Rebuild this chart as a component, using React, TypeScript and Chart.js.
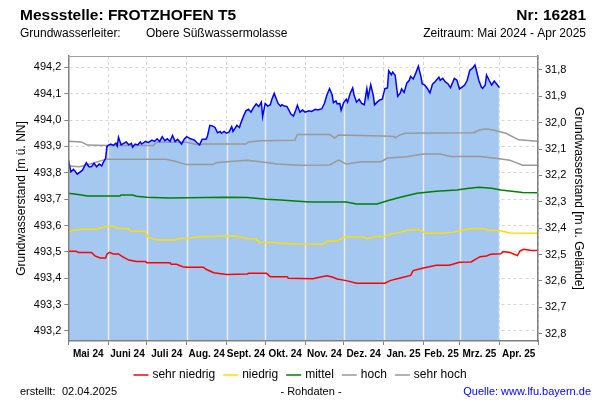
import React, { useEffect, useRef } from "react";
import { Chart, registerables } from "chart.js";

Chart.register(...registerables);

// ---------- DATA ----------
const monthLabels = ["Mai 24", "Juni 24", "Juli 24", "Aug. 24", "Sept. 24", "Okt. 24", "Nov. 24", "Dez. 24", "Jan. 25", "Feb. 25", "Mrz. 25", "Apr. 25"];
const monthLengths = [31, 30, 31, 31, 30, 31, 30, 31, 31, 28, 31, 30];
const groundLevel = 525.99; // m ü. NN
const yMinNN = 493.162;
const yMaxNN = 494.243;

// [day since 1 May 2024, m ü. NN]
const measured: [number, number][] = [
  [0, 493.851], [2, 493.804], [4, 493.813], [5, 493.808], [7, 493.795], [11, 493.81], [14, 493.838], [16, 493.823],
  [18, 493.823], [20, 493.836], [22, 493.823], [24, 493.833], [26, 493.826], [27, 493.838], [29, 493.855], [30, 493.899],
  [31, 493.904], [33, 493.909], [35, 493.904], [37, 493.912], [38, 493.902], [39, 493.935], [41, 493.906], [42, 493.909],
  [45, 493.917], [47, 493.906], [49, 493.912], [50, 493.897], [52, 493.909], [54, 493.906], [56, 493.917], [57, 493.909],
  [60, 493.919], [62, 493.914], [65, 493.924], [67, 493.919], [69, 493.929], [71, 493.919], [73, 493.937], [75, 493.922],
  [77, 493.929], [79, 493.919], [81, 493.942], [83, 493.919], [85, 493.927], [88, 493.909], [90, 493.927], [92, 493.937],
  [95, 493.929], [98, 493.924], [100, 493.914], [102, 493.906], [104, 493.927], [107, 493.927], [108, 493.937], [110, 493.98],
  [112, 493.978], [114, 493.972], [116, 493.952], [118, 493.957], [119, 493.95], [121, 493.957], [123, 493.95], [125, 493.955],
  [127, 493.975], [128, 493.957], [131, 493.98], [133, 493.972], [134, 493.988], [136, 494.013], [138, 494.035], [140, 494.041],
  [142, 494.03], [144, 494.048], [146, 494.061], [148, 494.051], [150, 494.068], [151, 494.013], [153, 494.063], [155, 494.053],
  [157, 494.058], [158, 494.076], [160, 494.101], [163, 494.063], [165, 494.053], [166, 494.058], [168, 494.053], [170, 494.051],
  [173, 494.023], [175, 494.015], [177, 494.041], [178, 494.056], [180, 494.03], [182, 494.038], [184, 494.03], [187, 494.035],
  [189, 494.033], [192, 494.041], [194, 494.038], [197, 494.043], [199, 494.063], [201, 494.096], [203, 494.119], [205, 494.096],
  [206, 494.066], [208, 494.073], [209, 494.061], [211, 494.063], [212, 494.038], [214, 494.066], [216, 494.079], [217, 494.068],
  [219, 494.101], [221, 494.122], [222, 494.096], [224, 494.068], [226, 494.079], [228, 494.063], [230, 494.058], [232, 494.119],
  [233, 494.086], [235, 494.134], [237, 494.094], [238, 494.058], [240, 494.068], [242, 494.076], [244, 494.079], [246, 494.119],
  [248, 494.122], [249, 494.187], [251, 494.172], [252, 494.182], [254, 494.17], [256, 494.09], [258, 494.103], [259, 494.118],
  [261, 494.105], [263, 494.14], [265, 494.151], [266, 494.166], [268, 494.156], [270, 494.178], [272, 494.204], [274, 494.166],
  [275, 494.138], [277, 494.133], [279, 494.12], [281, 494.103], [283, 494.136], [285, 494.145], [288, 494.163], [289, 494.151],
  [291, 494.158], [293, 494.145], [295, 494.138], [297, 494.123], [300, 494.158], [302, 494.151], [304, 494.118], [306, 494.125],
  [308, 494.133], [310, 494.151], [312, 494.189], [314, 494.196], [316, 494.209], [317, 494.191], [319, 494.151], [321, 494.125],
  [322, 494.12], [324, 494.133], [325, 494.171], [327, 494.151], [329, 494.133], [331, 494.148], [333, 494.136], [335, 494.123],
];

const sehrNiedrig: [number, number][] = [
  [0, 493.502], [6, 493.502], [8, 493.498], [18, 493.498], [21, 493.484], [25, 493.477], [29, 493.477], [30, 493.491],
  [32, 493.498], [35, 493.492], [39, 493.492], [42, 493.482], [47, 493.469], [53, 493.464], [60, 493.464], [61, 493.459],
  [79, 493.459], [80, 493.453], [84, 493.453], [89, 493.444], [92, 493.442], [105, 493.442], [107, 493.434], [113, 493.421],
  [123, 493.414], [139, 493.416], [140, 493.419], [154, 493.419], [157, 493.406], [170, 493.406], [171, 493.4], [190, 493.398],
  [196, 493.405], [201, 493.409], [205, 493.405], [209, 493.397], [216, 493.391], [224, 493.381], [246, 493.381], [250, 493.391],
  [258, 493.401], [266, 493.411], [268, 493.429], [276, 493.439], [286, 493.449], [296, 493.449], [304, 493.461], [313, 493.462],
  [320, 493.482], [325, 493.484], [328, 493.491], [336, 493.493], [338, 493.501], [343, 493.498], [346, 493.492], [349, 493.486],
  [351, 493.504], [354, 493.51], [359, 493.506], [365, 493.505],
];

const niedrig: [number, number][] = [
  [0, 493.575], [4, 493.583], [12, 493.586], [22, 493.586], [29, 493.596], [35, 493.596], [38, 493.591], [47, 493.588],
  [48, 493.58], [60, 493.577], [62, 493.555], [69, 493.545], [83, 493.545], [86, 493.551], [93, 493.551], [96, 493.555],
  [106, 493.558], [131, 493.56], [139, 493.55], [146, 493.55], [148, 493.536], [159, 493.536], [165, 493.533], [178, 493.53],
  [198, 493.529], [201, 493.54], [209, 493.541], [214, 493.556], [229, 493.556], [232, 493.55], [238, 493.558], [245, 493.558],
  [250, 493.567], [258, 493.575], [265, 493.583], [272, 493.586], [278, 493.571], [289, 493.571], [299, 493.574], [304, 493.58],
  [312, 493.588], [324, 493.588], [326, 493.583], [336, 493.58], [343, 493.572], [365, 493.571],
];

const mittel: [number, number][] = [
  [0, 493.722], [9, 493.717], [15, 493.712], [40, 493.712], [41, 493.716], [50, 493.716], [53, 493.711], [61, 493.707],
  [78, 493.704], [122, 493.707], [139, 493.706], [154, 493.7], [165, 493.697], [176, 493.693], [188, 493.689], [216, 493.689],
  [224, 493.682], [240, 493.682], [248, 493.694], [258, 493.707], [271, 493.722], [286, 493.73], [302, 493.735], [310, 493.74],
  [319, 493.745], [329, 493.741], [336, 493.735], [343, 493.731], [353, 493.725], [365, 493.724],
];

const hoch: [number, number][] = [
  [0, 493.826], [9, 493.823], [19, 493.836], [27, 493.848], [30, 493.851], [76, 493.851], [82, 493.845], [92, 493.831],
  [112, 493.831], [115, 493.838], [123, 493.842], [139, 493.848], [151, 493.841], [162, 493.833], [180, 493.829], [203, 493.83],
  [210, 493.848], [216, 493.833], [228, 493.842], [243, 493.842], [248, 493.856], [263, 493.861], [276, 493.871], [289, 493.871],
  [297, 493.862], [320, 493.862], [335, 493.853], [343, 493.848], [353, 493.829], [365, 493.829],
];

const sehrHoch: [number, number][] = [
  [0, 493.92], [10, 493.917], [15, 493.905], [30, 493.904], [66, 493.904], [69, 493.916], [92, 493.916], [102, 493.905],
  [105, 493.909], [138, 493.909], [140, 493.917], [150, 493.922], [176, 493.923], [178, 493.945], [203, 493.945], [207, 493.932],
  [210, 493.943], [245, 493.94], [253, 493.938], [254, 493.932], [257, 493.942], [262, 493.95], [315, 493.952], [320, 493.963],
  [325, 493.966], [330, 493.962], [340, 493.95], [350, 493.925], [365, 493.92],
];

const legendLabels = ["sehr niedrig", "niedrig", "mittel", "hoch", "sehr hoch"];
const legendColors = ["#ff0000", "#ffdd00", "#008000", "#999999", "#999999"];
const percentileSeries = [sehrNiedrig, niedrig, mittel, hoch, sehrHoch];

// ---------- helpers ----------
const FONT = '"Liberation Sans", Arial, sans-serif';
const boundaries: number[] = [0];
monthLengths.forEach((len, i) => boundaries.push(boundaries[i] + len));
const midpoints = monthLengths.map((len, i) => boundaries[i] + len / 2);
const toXY = (s: [number, number][]) => s.map(([x, y]) => ({ x, y }));
const fmt = (v: number) => Number(v).toFixed(1).replace(".", ",");
const isBoundary = (v: number) => boundaries.some((b) => Math.abs(b - v) < 1e-6);

const overlayPlugin = {
  id: "overlay",
  afterDatasetDraw(chart: any, args: any) {
    if (args.index !== 0) return;
    const pts = args.meta.data;
    if (!pts || !pts.length) return;
    const { ctx, chartArea } = chart;
    const xs = chart.scales.x;
    ctx.save();
    ctx.beginPath();
    ctx.moveTo(pts[0].x, chartArea.bottom);
    pts.forEach((p: any) => ctx.lineTo(p.x, p.y));
    ctx.lineTo(pts[pts.length - 1].x, chartArea.bottom);
    ctx.closePath();
    ctx.clip();
    ctx.strokeStyle = "#ececec";
    ctx.lineWidth = 1.5;
    boundaries.forEach((b) => {
      const x = Math.round(xs.getPixelForValue(b)) + 0.5;
      ctx.beginPath();
      ctx.moveTo(x, chartArea.top);
      ctx.lineTo(x, chartArea.bottom);
      ctx.stroke();
    });
    ctx.restore();
  },
  afterDraw(chart: any) {
    const { ctx, chartArea } = chart;
    ctx.save();
    // top frame line
    ctx.strokeStyle = "#a0a0a0";
    ctx.lineWidth = 1;
    ctx.beginPath();
    ctx.moveTo(chartArea.left, Math.round(chartArea.top) + 0.5);
    ctx.lineTo(chartArea.right, Math.round(chartArea.top) + 0.5);
    ctx.stroke();

    ctx.fillStyle = "#000";
    ctx.textBaseline = "middle";
    // header
    ctx.font = `bold 15.5px ${FONT}`;
    ctx.textAlign = "left";
    ctx.fillText("Messstelle: FROTZHOFEN T5", 20, 16);
    ctx.textAlign = "right";
    ctx.fillText("Nr: 16281", 586, 16);
    ctx.font = `12px ${FONT}`;
    ctx.textAlign = "left";
    ctx.fillText("Grundwasserleiter:", 20, 34);
    ctx.fillText("Obere Süßwassermolasse", 146, 34);
    ctx.textAlign = "right";
    ctx.fillText("Zeitraum: Mai 2024 - Apr 2025", 586, 34);

    // legend
    ctx.font = `12px ${FONT}`;
    const sample = 15, gapText = 4, gapItem = 8;
    const widths = legendLabels.map((l) => ctx.measureText(l).width);
    const total = widths.reduce((a, w) => a + sample + gapText + w, 0) + gapItem * (legendLabels.length - 1);
    let x = 300 - total / 2;
    const ly = 375;
    ctx.textAlign = "left";
    legendLabels.forEach((l, i) => {
      ctx.strokeStyle = legendColors[i];
      ctx.lineWidth = 1.5;
      ctx.beginPath();
      ctx.moveTo(x, ly);
      ctx.lineTo(x + sample, ly);
      ctx.stroke();
      ctx.fillStyle = "#000";
      ctx.fillText(l, x + sample + gapText, ly);
      x += sample + gapText + widths[i] + gapItem;
    });

    // footer
    ctx.font = `11px ${FONT}`;
    ctx.fillStyle = "#000";
    ctx.textAlign = "left";
    ctx.fillText("erstellt:", 20, 392);
    ctx.fillText("02.04.2025", 62, 392);
    ctx.textAlign = "center";
    ctx.fillText("- Rohdaten -", 311, 392);
    ctx.textAlign = "right";
    ctx.fillStyle = "#0000ff";
    ctx.fillText("Quelle: www.lfu.bayern.de", 591, 392);
    ctx.restore();
  },
};

export default function App() {
  const ref = useRef<HTMLCanvasElement | null>(null);
  useEffect(() => {
    document.body.style.margin = "0";
    const canvas = ref.current;
    if (!canvas) return;
    const lineDs = (data: [number, number][], color: string, order: number, label: string) => ({
      label,
      data: toXY(data),
      borderColor: color,
      borderWidth: 1.5,
      pointRadius: 0,
      fill: false,
      tension: 0,
      order,
    });
    const chart = new Chart(canvas, {
      type: "line",
      data: {
        datasets: [
          {
            label: "Fläche",
            data: toXY(measured),
            borderColor: "rgba(0,0,0,0)",
            borderWidth: 0,
            backgroundColor: "#a5c8f0",
            fill: "start",
            pointRadius: 0,
            tension: 0,
            order: 10,
          },
          lineDs(measured, "#0000ff", 0, "Messwert"),
          ...percentileSeries.map((s, i) => lineDs(s, legendColors[i], i + 1, legendLabels[i])),
        ] as any,
      },
      plugins: [overlayPlugin],
      options: {
        animation: false,
        responsive: false,
        maintainAspectRatio: false,
        devicePixelRatio: 1,
        layout: { padding: { left: 10, right: 10, top: 56, bottom: 39 } },
        plugins: { legend: { display: false }, tooltip: { enabled: false }, title: { display: false } },
        scales: {
          x: {
            type: "linear",
            min: 0,
            max: 365,
            afterFit: (s: any) => { s.height = 20; },
            afterBuildTicks: (s: any) => {
              s.ticks = [...boundaries, ...midpoints].sort((a, b) => a - b).map((v) => ({ value: v }));
            },
            ticks: {
              autoSkip: false,
              maxRotation: 0,
              minRotation: 0,
              padding: 3,
              color: "#000",
              font: { family: FONT, size: 10, weight: "bold" },
              callback: (v: any) => {
                const i = midpoints.findIndex((m) => Math.abs(m - v) < 1e-6);
                return i >= 0 ? monthLabels[i] : "";
              },
            },
            grid: {
              color: (c: any) => (c.tick && isBoundary(c.tick.value) ? "#d6d6d6" : "rgba(0,0,0,0)"),
              tickColor: (c: any) => (c.tick && isBoundary(c.tick.value) ? "#808080" : "rgba(0,0,0,0)"),
              tickLength: 4,
              lineWidth: 1,
              tickBorderDash: [],
            },
            border: { display: true, color: "#808080", width: 1.5, dash: [3, 3], z: 1 },
          },
          y: {
            type: "linear",
            position: "left",
            min: yMinNN,
            max: yMaxNN,
            afterFit: (s: any) => { s.width = 58.3; },
            ticks: {
              stepSize: 0.1,
              includeBounds: false,
              padding: 3,
              color: "#000",
              font: { family: FONT, size: 11 },
              callback: (v: any) => fmt(v),
            },
            grid: { color: "#d6d6d6", tickColor: "#808080", tickLength: 4, lineWidth: 1, tickBorderDash: [] },
            border: { display: true, color: "#808080", width: 1.5, dash: [3, 3], z: 1 },
            title: {
              display: true,
              text: "Grundwasserstand [m ü. NN]",
              color: "#000",
              font: { family: FONT, size: 12 },
              padding: { top: 4, bottom: 4 },
            },
          },
          y2: {
            type: "linear",
            position: "right",
            reverse: true,
            min: groundLevel - yMaxNN,
            max: groundLevel - yMinNN,
            afterFit: (s: any) => { s.width = 52; },
            ticks: {
              stepSize: 0.1,
              includeBounds: false,
              padding: 3,
              color: "#000",
              font: { family: FONT, size: 11 },
              callback: (v: any) => fmt(v),
            },
            grid: { drawOnChartArea: false, tickColor: "#808080", tickLength: 4, tickBorderDash: [] },
            border: { display: true, color: "#808080", width: 1.5, z: 1 },
            title: {
              display: true,
              text: "Grundwasserstand [m u. Gelände]",
              color: "#000",
              font: { family: FONT, size: 12 },
              padding: { top: 4, bottom: 4 },
            },
          },
        },
      } as any,
    });
    return () => chart.destroy();
  }, []);
  return (
    <div style={{ position: "absolute", left: 0, top: 0, width: 600, height: 400, background: "#fff" }}>
      <canvas ref={ref} width={600} height={400} style={{ width: 600, height: 400, display: "block" }} />
    </div>
  );
}
